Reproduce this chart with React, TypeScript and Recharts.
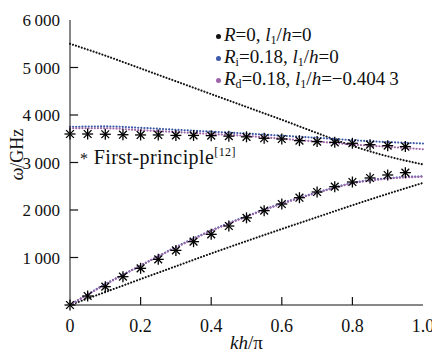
import React from 'react';
import { ComposedChart, Line, Scatter, XAxis, YAxis, Legend, ReferenceLine } from 'recharts';

// kh/pi sample points for the model curves
const khLine = [0, 0.1, 0.2, 0.3, 0.4, 0.5, 0.6, 0.7, 0.8, 0.9, 1.0];
// R=0, l1/h=0
const rZeroUpper = [5500, 5250, 4980, 4710, 4440, 4170, 3900, 3620, 3350, 3130, 2960];
const rZeroLower = [0, 272, 545, 815, 1085, 1345, 1600, 1850, 2100, 2340, 2570];
// Ri=0.18, l1/h=0
const riUpper = [3750, 3760, 3730, 3690, 3650, 3610, 3565, 3520, 3470, 3430, 3400];
const riLower = [0, 440, 830, 1220, 1570, 1870, 2140, 2370, 2570, 2670, 2710];
// Rd=0.18, l1/h=-0.4043
const rdUpper = [3720, 3720, 3680, 3640, 3600, 3560, 3500, 3440, 3380, 3330, 3280];
const rdLower = [0, 430, 830, 1210, 1560, 1860, 2130, 2360, 2560, 2660, 2700];

// first-principle points
const khStars = [0, 0.05, 0.1, 0.15, 0.2, 0.25, 0.3, 0.35, 0.4, 0.45, 0.5, 0.55, 0.6, 0.65, 0.7, 0.75, 0.8, 0.85, 0.9, 0.95];
const starsUpper = [3600, 3600, 3595, 3585, 3580, 3580, 3570, 3570, 3565, 3555, 3540, 3510, 3495, 3460, 3440, 3425, 3405, 3375, 3355, 3335];
const starsLower = [0, 189, 386, 596, 772, 961, 1150, 1333, 1488, 1663, 1835, 1986, 2126, 2259, 2379, 2491, 2589, 2674, 2737, 2786];

const xTicks = [0, 0.2, 0.4, 0.6, 0.8, 1.0];
const yTicks = [0, 1000, 2000, 3000, 4000, 5000, 6000];
const xInnerTicks = [0.2, 0.4, 0.6, 0.8];
const yInnerTicks = [1000, 2000, 3000, 4000, 5000];

const BLACK = '#111111';
const BLUE = '#3d5aa8';
const PURPLE = '#9d64a8';
const FONT = '"Liberation Serif", "DejaVu Serif", "Liberation Sans", sans-serif';

const W = 432;
const H = 349;
const MARGIN = { top: 12, right: 17, bottom: 12, left: 12 };
// inward tick length, in axis units (about 8 px)
const X_TICK_UNITS = 170;
const Y_TICK_UNITS = 0.023;

const toRows = (xs: number[], ys: number[]) => xs.map((kh, i) => ({ kh, w: ys[i] }));

const curves = [
  { key: 'r0u', data: toRows(khLine, rZeroUpper), color: BLACK },
  { key: 'r0l', data: toRows(khLine, rZeroLower), color: BLACK },
  { key: 'riu', data: toRows(khLine, riUpper), color: BLUE },
  { key: 'ril', data: toRows(khLine, riLower), color: BLUE },
  { key: 'rdu', data: toRows(khLine, rdUpper), color: PURPLE },
  { key: 'rdl', data: toRows(khLine, rdLower), color: PURPLE },
];

const Star = (props: any) => {
  const { cx, cy } = props;
  const r = 5.5;
  const d = r * 0.707;
  return (
    <g stroke="#000" strokeWidth={1.3}>
      <line x1={cx - r} y1={cy} x2={cx + r} y2={cy} />
      <line x1={cx} y1={cy - r} x2={cx} y2={cy + r} />
      <line x1={cx - d} y1={cy - d} x2={cx + d} y2={cy + d} />
      <line x1={cx - d} y1={cy + d} x2={cx + d} y2={cy - d} />
    </g>
  );
};

function fmtY(v: number) {
  return v === 0 ? '' : `${Math.round(v / 1000)}\u2009000`;
}
function fmtX(v: number) {
  return v === 0 ? '0' : v.toFixed(1);
}

const Dot = ({ color }: { color: string }) => (
  <span style={{ display: 'inline-block', width: 5, height: 5, borderRadius: 3, background: color, marginRight: 3, verticalAlign: 'middle' }} />
);

const subStyle = { fontSize: 12, verticalAlign: '-0.25em', lineHeight: 0 };

const renderLegend = () => (
  <div style={{ position: 'relative', width: W, height: H, fontFamily: FONT, color: '#111' }}>
    <div style={{ position: 'absolute', left: 208, top: 16, fontSize: 19, lineHeight: '22px', whiteSpace: 'nowrap' }}>
      <div><Dot color={BLACK} /><i>R</i>=0, <i>l</i><span style={subStyle}>1</span>/<i>h</i>=0</div>
      <div><Dot color={BLUE} /><i>R</i><span style={subStyle}>i</span>=0.18, <i>l</i><span style={subStyle}>1</span>/<i>h</i>=0</div>
      <div><Dot color={PURPLE} /><i>R</i><span style={subStyle}>d</span>=0.18, <i>l</i><span style={subStyle}>1</span>/<i>h</i>=−0.404{'\u2009'}3</div>
    </div>
    <div style={{ position: 'absolute', left: 72, top: 138, fontSize: 20, letterSpacing: 0.4, whiteSpace: 'nowrap' }}>
      <span style={{ fontSize: 16 }}>*</span> First-principle<sup style={{ fontSize: 12, lineHeight: 0 }}>[12]</sup>
    </div>
  </div>
);

const XLabel = (props: any) => {
  const { viewBox } = props;
  const cx = viewBox.x + viewBox.width / 2;
  return (
    <text x={cx} y={viewBox.y + 44} textAnchor="middle" fontFamily={FONT} fontSize={19} fill="#111">
      <tspan fontStyle="italic">kh</tspan>/π
    </text>
  );
};

const YLabel = (props: any) => {
  const { viewBox } = props;
  const cy = viewBox.y + viewBox.height / 2 - 8;
  return (
    <text x={0} y={0} transform={`translate(9, ${cy}) rotate(-90)`} textAnchor="middle" dominantBaseline="central" fontFamily={FONT} fontSize={18} fill="#111">
      <tspan fontStyle="italic">ω</tspan>/GHz
    </text>
  );
};

export default function App() {
  return (
    <ComposedChart width={W} height={H} margin={MARGIN}>
      <XAxis
        dataKey="kh"
        type="number"
        domain={[0, 1]}
        ticks={xTicks}
        tickFormatter={fmtX}
        tickLine={false}
        tickMargin={8}
        height={40}
        stroke="#111"
        tick={{ fill: '#111', fontFamily: FONT, fontSize: 18 }}
        label={<XLabel />}
      />
      <XAxis xAxisId="top" orientation="top" type="number" domain={[0, 1]} tick={false} tickLine={false} height={0} stroke="#111" />
      <YAxis
        dataKey="w"
        type="number"
        domain={[0, 6000]}
        ticks={yTicks}
        tickFormatter={fmtY}
        tickLine={false}
        tickMargin={4}
        width={50}
        stroke="#111"
        tick={{ fill: '#111', fontFamily: FONT, fontSize: 17 }}
        label={<YLabel />}
      />
      <YAxis yAxisId="right" orientation="right" type="number" domain={[0, 6000]} tick={false} tickLine={false} width={0} stroke="#111" />
      <Legend
        content={renderLegend}
        layout="vertical"
        align="center"
        verticalAlign="middle"
        wrapperStyle={{ left: 0, top: 0, width: W, height: H, pointerEvents: 'none' }}
      />
      {/* inward tick marks */}
      {xInnerTicks.map((v) => (
        <ReferenceLine key={`xt${v}`} segment={[{ x: v, y: 0 }, { x: v, y: X_TICK_UNITS }]} stroke="#111" strokeWidth={1.2} />
      ))}
      {yInnerTicks.map((v) => (
        <ReferenceLine key={`yt${v}`} segment={[{ x: 0, y: v }, { x: Y_TICK_UNITS, y: v }]} stroke="#111" strokeWidth={1.2} />
      ))}
      {curves.map((c) => (
        <Line
          key={c.key}
          data={c.data}
          dataKey="w"
          type="monotone"
          stroke={c.color}
          strokeWidth={2.1}
          strokeDasharray="0.1 3"
          strokeLinecap="round"
          dot={false}
          activeDot={false}
          isAnimationActive={false}
        />
      ))}
      <Scatter data={toRows(khStars, starsUpper)} dataKey="w" shape={<Star />} isAnimationActive={false} />
      <Scatter data={toRows(khStars, starsLower)} dataKey="w" shape={<Star />} isAnimationActive={false} />
    </ComposedChart>
  );
}
